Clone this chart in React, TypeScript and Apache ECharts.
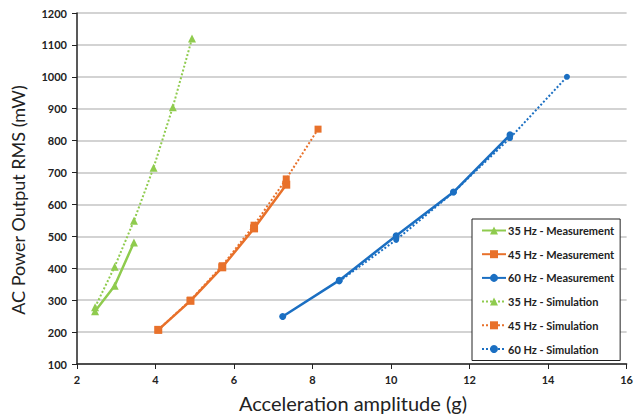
import React, { useEffect, useRef } from "react";
import * as echarts from "echarts";

const green35MeasX = [2.46, 2.96, 3.45];
const green35MeasY = [265, 345, 481];
const green35SimX = [2.46, 2.96, 3.45, 3.95, 4.44, 4.93];
const green35SimY = [278, 405, 549, 715, 905, 1120];
const orange45MeasX = [4.07, 4.89, 5.7, 6.51, 7.33];
const orange45MeasY = [207, 298, 403, 525, 662];
const orange45SimX = [4.07, 4.89, 5.7, 6.51, 7.33, 8.14];
const orange45SimY = [207, 300, 408, 535, 680, 836];
const blue60MeasX = [7.24, 8.68, 10.13, 11.59, 13.03];
const blue60MeasY = [249, 362, 502, 639, 818];
const blue60SimX = [8.68, 10.13, 11.59, 13.03, 14.48];
const blue60SimY = [359, 489, 638, 808, 1000];

const GREEN = "#8FCB4E";
const ORANGE = "#E8712B";
const BLUE = "#1B6FC2";

const zip = (xs: number[], ys: number[]) => xs.map((x, i) => [x, ys[i]]);

export default function App() {
  const ref = useRef<HTMLDivElement>(null);
  useEffect(() => {
    if (!ref.current) return;
    const chart = echarts.init(ref.current, null, { renderer: "svg" });
    const mk = (
      name: string,
      xs: number[],
      ys: number[],
      color: string,
      symbol: string,
      size: number,
      dotted: boolean
    ) => ({
      name,
      type: "line",
      data: zip(xs, ys),
      symbol,
      symbolSize: size,
      showAllSymbol: true,
      itemStyle: { color },
      lineStyle: { color, width: dotted ? 2 : 2.5, type: dotted ? "dotted" : "solid" },
    });
    chart.setOption({
      animation: false,
      textStyle: { fontFamily: "Lato" },
      grid: { left: 77, right: 6, top: 13, bottom: 56, containLabel: false },
      graphic: [
        {
          type: "text",
          x: 18,
          y: 200,
          rotation: Math.PI / 2,
          style: {
            text: "AC Power Output RMS (mW)",
            fontFamily: "Lato",
            fontSize: 18,
            fill: "#222",
            align: "center",
            verticalAlign: "middle",
          },
        },
        {
          type: "text",
          x: 353,
          y: 403,
          style: {
            text: "Acceleration amplitude (g)",
            fontFamily: "Lato",
            fontSize: 20,
            fill: "#222",
            align: "center",
            verticalAlign: "middle",
          },
        },
      ],
      legend: {
        orient: "vertical",
        left: 472,
        top: 219,
        width: 151,
        itemWidth: 24,
        itemHeight: 10,
        itemGap: 12.7,
        padding: [6, 6, 6, 9],
        backgroundColor: "#fff",
        borderColor: "#222",
        borderWidth: 1,
        borderRadius: 0,
        textStyle: {
          fontFamily: "Lato",
          fontWeight: "bold",
          fontSize: 11,
          lineHeight: 10,
          color: "#222",
          padding: [0, 0, 0, -3],
        },
        data: [
          "35 Hz - Measurement",
          "45 Hz - Measurement",
          "60 Hz - Measurement",
          "35 Hz - Simulation",
          "45 Hz - Simulation",
          "60 Hz - Simulation",
        ],
      },
      xAxis: {
        type: "value",
        min: 2,
        max: 16,
        interval: 2,
        axisLine: { show: true, lineStyle: { color: "#222", width: 1.5 } },
        axisTick: { show: true, length: 5, lineStyle: { color: "#222" } },
        axisLabel: { fontFamily: "Lato", fontWeight: "bold", fontSize: 11, color: "#222", margin: 10 },
        splitLine: { show: false },
      },
      yAxis: {
        type: "value",
        min: 100,
        max: 1200,
        interval: 100,
        axisLine: { show: true, lineStyle: { color: "#222", width: 1.5 } },
        axisTick: { show: true, length: 5, lineStyle: { color: "#222" } },
        axisLabel: {
          fontFamily: "Lato",
          fontWeight: "bold",
          fontSize: 11,
          color: "#222",
          margin: 10,
          formatter: (v: number) => String(v),
        },
        splitLine: { show: true, lineStyle: { color: "#c4c4c4", width: 1.5 } },
      },
      series: [
        mk("35 Hz - Measurement", green35MeasX, green35MeasY, GREEN, "triangle", 8, false),
        mk("45 Hz - Measurement", orange45MeasX, orange45MeasY, ORANGE, "rect", 8, false),
        mk("60 Hz - Measurement", blue60MeasX, blue60MeasY, BLUE, "circle", 7, false),
        mk("35 Hz - Simulation", green35SimX, green35SimY, GREEN, "triangle", 8, true),
        mk("45 Hz - Simulation", orange45SimX, orange45SimY, ORANGE, "rect", 7, true),
        mk("60 Hz - Simulation", blue60SimX, blue60SimY, BLUE, "circle", 6, true),
      ],
    });
    return () => chart.dispose();
  }, []);
  return <div ref={ref} style={{ width: 636, height: 420, position: "absolute", left: 0, top: 0 }} />;
}
